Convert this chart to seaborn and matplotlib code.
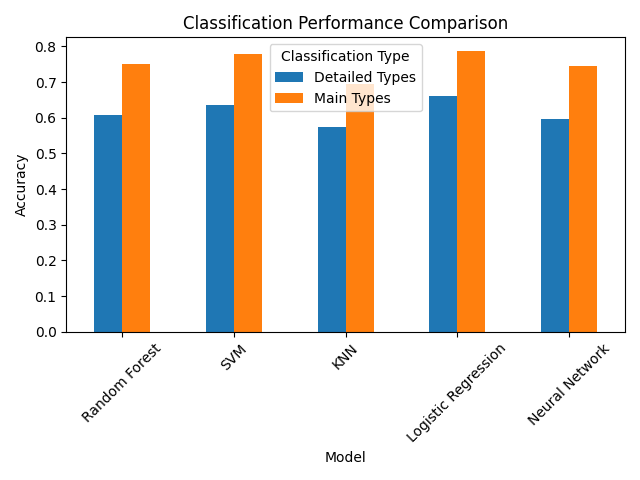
import matplotlib
matplotlib.use("Agg")
import matplotlib.pyplot as plt
import seaborn as sns
import pandas as pd

models = ["Random Forest", "SVM", "KNN", "Logistic Regression", "Neural Network"]
detailed = [0.609, 0.637, 0.573, 0.660, 0.595]
main = [0.750, 0.778, 0.694, 0.786, 0.744]
series_names = ["Detailed Types", "Main Types"]

df = pd.DataFrame({
    "Model": models * 2,
    "Accuracy": detailed + main,
    "Classification Type": [series_names[0]] * len(models) + [series_names[1]] * len(models),
})

fig, ax = plt.subplots(figsize=(6.4, 4.8), dpi=100)
sns.barplot(data=df, x="Model", y="Accuracy", hue="Classification Type",
            palette=["#1f77b4", "#ff7f0e"], saturation=1, width=0.5, gap=0,
            ax=ax, errorbar=None)
ax.set_xlim(-0.5, 4.5)
ax.set_title("Classification Performance Comparison")
ax.set_xlabel("Model")
ax.set_ylabel("Accuracy")
plt.setp(ax.get_xticklabels(), rotation=45)
ax.legend(title="Classification Type", loc="upper center")
fig.tight_layout()
fig.savefig("out.png", dpi=100)
